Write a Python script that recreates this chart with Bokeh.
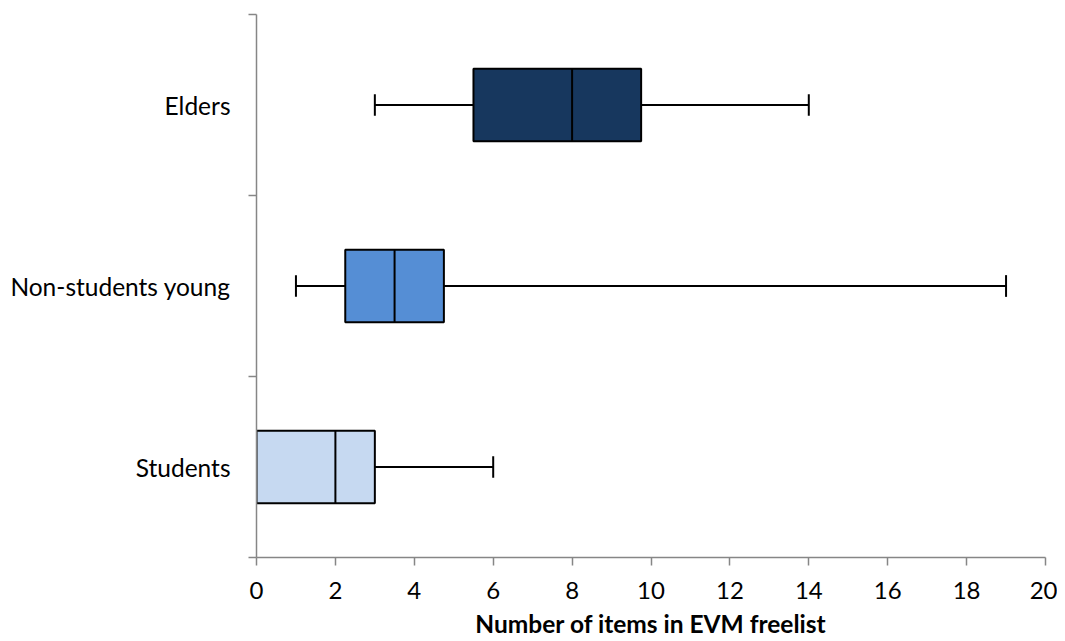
from bokeh.plotting import figure
from bokeh.models import Range1d, FixedTicker, ColumnDataSource
from bokeh.embed import file_html
from bokeh.resources import INLINE

categories = ["Students", "Non-students young", "Elders"]
whisker_low = [0, 1, 3]
q1 = [0, 2.25, 5.5]
median = [2, 3.5, 8]
q3 = [3, 4.75, 9.75]
whisker_high = [6, 19, 14]
colors = ["#C6D9F1", "#558ED5", "#17375E"]

x_ticks = list(range(0, 21, 2))

ypos = [i + 0.5 for i in range(len(categories))]
box_h = 0.4
cap_h = 0.06

src = ColumnDataSource(dict(
    y=ypos, low=whisker_low, q1=q1, med=median, q3=q3, high=whisker_high,
    color=colors,
    y0=[y - box_h / 2 for y in ypos], y1=[y + box_h / 2 for y in ypos],
    c0=[y - cap_h for y in ypos], c1=[y + cap_h for y in ypos],
))

FONT = "Lato"
AXIS_COLOR = "#868686"

p = figure(width=1057, height=641, output_backend="svg", toolbar_location=None,
           x_range=Range1d(0, 20), y_range=Range1d(0, 3),
           min_border_left=256, min_border_right=12, min_border_top=14, min_border_bottom=84)
p.outline_line_color = None
p.xgrid.visible = False
p.ygrid.visible = False

# whiskers
p.segment(x0="low", y0="y", x1="q1", y1="y", source=src, line_color="black", line_width=2)
p.segment(x0="q3", y0="y", x1="high", y1="y", source=src, line_color="black", line_width=2)
p.segment(x0="low", y0="c0", x1="low", y1="c1", source=src, line_color="black", line_width=2)
p.segment(x0="high", y0="c0", x1="high", y1="c1", source=src, line_color="black", line_width=2)
# boxes
p.hbar(y="y", left="q1", right="q3", height=box_h, source=src, fill_color="color",
       line_color="black", line_width=2)
# medians
p.segment(x0="med", y0="y0", x1="med", y1="y1", source=src, line_color="black", line_width=2)

# x axis
xa = p.xaxis[0]
xa.ticker = FixedTicker(ticks=x_ticks, minor_ticks=[])
xa.axis_line_color = AXIS_COLOR
xa.axis_line_width = 1.5
xa.major_tick_line_color = AXIS_COLOR
xa.major_tick_line_width = 1.5
xa.major_tick_out = 8
xa.major_tick_in = 0
xa.minor_tick_line_color = None
xa.major_label_text_font = FONT
xa.major_label_text_font_size = "24px"
xa.major_label_text_color = "black"
xa.major_label_standoff = 16
xa.major_label_text_line_height = 1.0
xa.axis_label = "Number of items in EVM freelist"
xa.axis_label_text_font = FONT
xa.axis_label_text_font_size = "24.5px"
xa.axis_label_text_font_style = "bold"
xa.axis_label_text_color = "black"
xa.axis_label_text_line_height = 1.0
xa.axis_label_standoff = 7

# y axis
ya = p.yaxis[0]
ya.ticker = FixedTicker(ticks=ypos, minor_ticks=[0, 1, 2, 3])
ya.major_label_overrides = {y: c for y, c in zip(ypos, categories)}
ya.axis_line_color = AXIS_COLOR
ya.axis_line_width = 1.5
ya.major_tick_line_color = None
ya.major_tick_out = 0
ya.major_tick_in = 0
ya.minor_tick_line_color = AXIS_COLOR
ya.minor_tick_line_width = 1.5
ya.minor_tick_out = 8
ya.minor_tick_in = 0
ya.major_label_text_font = FONT
ya.major_label_text_font_size = "24.5px"
ya.major_label_text_color = "black"
ya.major_label_standoff = 18

open("out.html", "w").write(file_html(p, INLINE))
